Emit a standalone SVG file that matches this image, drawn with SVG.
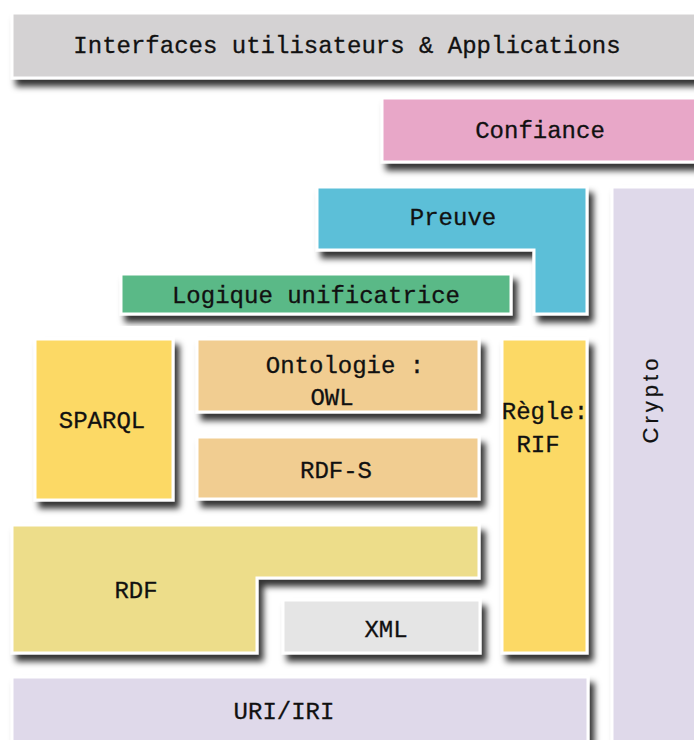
<svg xmlns="http://www.w3.org/2000/svg" width="694" height="740" viewBox="0 0 694 740">
<defs>
<filter id="sh" x="-10%" y="-10%" width="130%" height="140%">
<feDropShadow dx="5" dy="7" stdDeviation="3.2" flood-color="#000" flood-opacity="0.8"/>
</filter>
</defs>
<style>
.b{stroke:#fff;stroke-width:3;filter:url(#sh)}
.t{font-family:"Liberation Mono","DejaVu Sans Mono",monospace;font-size:24px;fill:#111;stroke:#111;stroke-width:0.3;text-anchor:middle}
.c{font-family:"Liberation Sans","Open Sans",sans-serif;font-size:22px;fill:#111;stroke:#111;stroke-width:0.2;text-anchor:middle;letter-spacing:4px}
</style>
<rect width="694" height="740" fill="#fff"/>
<g id="interfaces">
<rect class="b" x="12" y="13" width="700" height="65" fill="#D4D2D3"/>
<text class="t" x="347" y="53">Interfaces utilisateurs &amp; Applications</text>
</g>
<g id="confiance">
<rect class="b" x="382" y="98" width="330" height="64" fill="#E8A7C8"/>
<text class="t" x="540" y="138">Confiance</text>
</g>
<g id="preuve">
<path class="b" d="M317,187 H587 V314 H534 V250 H317 Z" fill="#5BBFD8"/>
<text class="t" x="453" y="225">Preuve</text>
</g>
<g id="crypto">
<rect class="b" x="612" y="187" width="100" height="570" fill="#DFD9EA"/>
<text class="c" transform="translate(658,399) rotate(-90)" x="0" y="0">Crypto</text>
</g>
<g id="logique">
<rect class="b" x="121" y="274" width="390" height="40" fill="#5AB987"/>
<text class="t" x="316" y="303">Logique unificatrice</text>
</g>
<g id="sparql">
<rect class="b" x="35" y="339" width="138" height="161" fill="#FCD965"/>
<text class="t" x="102" y="428">SPARQL</text>
</g>
<g id="ontologie">
<rect class="b" x="197" y="339" width="282" height="73" fill="#F1CD91"/>
<text class="t" x="345" y="373">Ontologie :</text>
<text class="t" x="332" y="405">OWL</text>
</g>
<g id="rdfs">
<rect class="b" x="197" y="437" width="282" height="62" fill="#F1CD91"/>
<text class="t" x="336" y="478">RDF-S</text>
</g>
<g id="regle">
<rect class="b" x="502" y="339" width="85" height="314" fill="#FCD965"/>
<text class="t" x="545" y="419">Règle:</text>
<text class="t" x="538" y="452">RIF</text>
</g>
<g id="rdf">
<path class="b" d="M12,525 H479 V578 H257 V653 H12 Z" fill="#EDDD8A"/>
<text class="t" x="136" y="598">RDF</text>
</g>
<g id="xml">
<rect class="b" x="283" y="600" width="197" height="53" fill="#E5E5E5"/>
<text class="t" x="386" y="637">XML</text>
</g>
<g id="uri">
<rect class="b" x="12" y="677" width="576" height="80" fill="#DFD9EA"/>
<text class="t" x="284" y="719">URI/IRI</text>
</g>
<g id="connectors"></g>
</svg>
